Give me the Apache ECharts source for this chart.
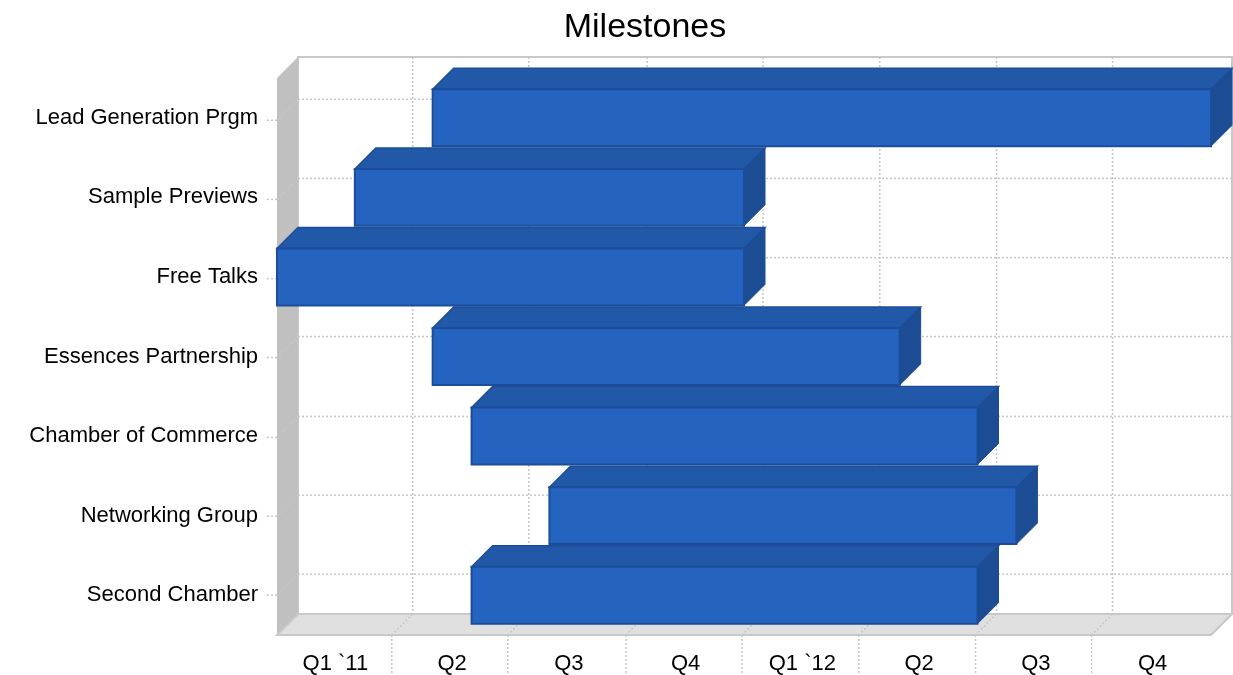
<!DOCTYPE html>
<html><head><meta charset="utf-8">
<style>html,body{margin:0;padding:0;background:#fff}#c{width:1233px;height:675px}</style>
<script src="https://cdn.jsdelivr.net/npm/echarts@6/dist/echarts.min.js"></script>
</head><body><div id="c"></div>
<script>
const categories = ['Lead Generation Prgm','Sample Previews','Free Talks','Essences Partnership','Chamber of Commerce','Networking Group','Second Chamber'];
const startMonth = [4,2,0,4,5,7,5];
const endMonth = [24,12,12,16,18,19,18];
const quarters = ['Q1 `11','Q2','Q3','Q4','Q1 `12','Q2','Q3','Q4'];
const gridMonths = [2.95,5.93,8.97,11.95,14.95,17.95,20.93];
const gridRows = [0.531,1.526,2.522,3.513,4.517,5.508,6.499];

const DEPTH = 21;
const GRID_COLOR = '#c6c6c6';
const FONT = '"Liberation Sans", Arial, sans-serif';
const chart = echarts.init(document.getElementById('c'), null, {renderer:'canvas'});

function dotted(x1,y1,x2,y2,z){
  return {type:'line', shape:{x1,y1,x2,y2}, silent:true,
    style:{stroke:GRID_COLOR, lineWidth:1.5, lineDash:[2,2], fill:null}};
}
function poly(points, fill, stroke, lw){
  return {type:'polygon', shape:{points}, silent:true,
    style:{fill, stroke:stroke||null, lineWidth:lw||0}};
}
function renderFrame(params, api){
  const tl = api.coord([0,0]), br = api.coord([24,7]);
  const L=tl[0], T=tl[1], R=br[0], B=br[1], d=DEPTH;
  const kids = [];
  kids.push(poly([[L+d,T-d],[R+d,T-d],[R+d,B-d],[L+d,B-d]],'#ffffff','#c8c8c8',2));
  kids.push(poly([[L,T],[L+d,T-d],[L+d,B-d],[L,B]],'#c0c0c0'));
  kids.push(poly([[L,B],[L+d,B-d],[R+d,B-d],[R,B]],'#e0e0e0','#c8c8c8',2));
  gridMonths.forEach(m=>{
    const x = api.coord([m,0])[0];
    kids.push(dotted(x+d,T-d,x+d,B-d));
    kids.push(dotted(x+d,B-d,x,B));
    kids.push(dotted(x,B,x,675));
  });
  gridRows.forEach(r=>{
    const y = api.coord([0,r])[1];
    kids.push(dotted(L+d,y-d,R+d,y-d));
    kids.push(dotted(L+d,y-d,L,y));
    kids.push(dotted(L,y,L-11,y));
  });
  return {type:'group', children:kids};
}
function renderBar(params, api){
  const c0 = api.coord([api.value(0), api.value(2)]);
  const c1 = api.coord([api.value(1), api.value(2)]);
  const h = api.size([0,1])[1]*0.715;
  const x0=c0[0], x1=c1[0], t=c0[1]-h/2, b=c0[1]+h/2, d=DEPTH;
  return {type:'group', children:[
    poly([[x0,t],[x0+d,t-d],[x1+d,t-d],[x1,t]],'#2258a8','#1d4c98',1.5),
    poly([[x1,t],[x1+d,t-d],[x1+d,b-d],[x1,b]],'#1c4c94','#1c4c94',1),
    {type:'rect', shape:{x:x0,y:t,width:x1-x0,height:b-t}, silent:true,
      style:{fill:'#2464c0', stroke:'#1d4c98', lineWidth:2}}
  ]};
}
chart.setOption({
  animation:false,
  backgroundColor:'#fff',
  title:{text:'Milestones', left:640, top:6, textAlign:'center',
    textStyle:{fontFamily:FONT, fontSize:34, fontWeight:'normal', color:'#000'}},
  grid:{left:277, top:78, width:934, height:558, containLabel:false},
  xAxis:[
    {type:'value', min:0, max:24, show:false},
    {type:'category', data:quarters, position:'bottom', boundaryGap:true,
      axisLine:{show:false}, axisTick:{show:false}, splitLine:{show:false},
      axisLabel:{fontFamily:FONT, fontSize:22, color:'#000', margin:18, interval:0}}
  ],
  yAxis:[
    {type:'category', data:categories, inverse:true,
      axisLine:{show:false}, axisTick:{show:false}, splitLine:{show:false},
      axisLabel:{fontFamily:FONT, fontSize:22, color:'#000', margin:19, interval:0}},
    {type:'value', min:0, max:7, inverse:true, show:false}
  ],
  series:[
    {type:'custom', name:'frame', xAxisIndex:0, yAxisIndex:1, clip:false, silent:true,
      renderItem:renderFrame, data:[[0,0]], z:1},
    {type:'custom', name:'Milestones', xAxisIndex:0, yAxisIndex:0, clip:false, silent:true,
      renderItem:renderBar, encode:{x:[0,1], y:2},
      data:categories.map((c,i)=>[startMonth[i], endMonth[i], i]), z:2}
  ]
});
</script></body></html>
